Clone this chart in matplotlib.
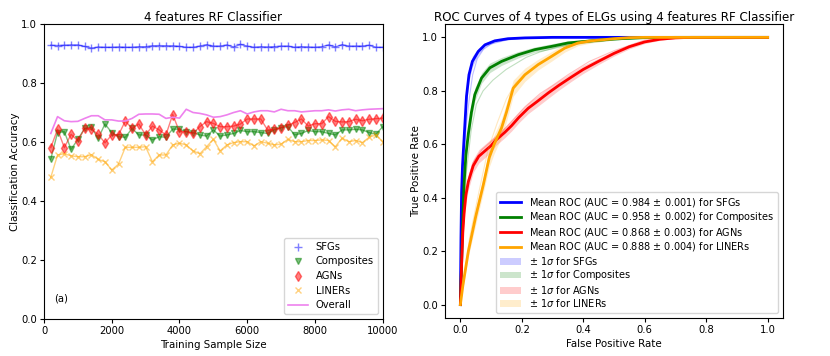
import numpy as np
import matplotlib
matplotlib.use("Agg")
import matplotlib.pyplot as plt

# ---------------- left panel data ----------------
train_size = list(range(200, 10001, 200))

acc_sfg = [0.928, 0.927, 0.928, 0.929, 0.929, 0.924, 0.918, 0.922, 0.921, 0.921,
           0.922, 0.921, 0.921, 0.923, 0.923, 0.926, 0.927, 0.926, 0.926, 0.924,
           0.921, 0.921, 0.925, 0.930, 0.925, 0.925, 0.929, 0.922, 0.931, 0.925,
           0.921, 0.923, 0.922, 0.923, 0.925, 0.925, 0.921, 0.923, 0.922, 0.921,
           0.923, 0.929, 0.922, 0.930, 0.925, 0.925, 0.925, 0.928, 0.921, 0.921]

acc_comp = [0.542, 0.632, 0.635, 0.575, 0.609, 0.646, 0.650, 0.612, 0.661, 0.632,
            0.618, 0.616, 0.646, 0.624, 0.624, 0.607, 0.618, 0.616, 0.644, 0.643,
            0.635, 0.632, 0.624, 0.620, 0.641, 0.620, 0.624, 0.629, 0.639, 0.635,
            0.635, 0.632, 0.629, 0.641, 0.648, 0.652, 0.624, 0.629, 0.639, 0.635,
            0.635, 0.629, 0.624, 0.641, 0.641, 0.643, 0.641, 0.632, 0.626, 0.652]

acc_agn = [0.581, 0.643, 0.581, 0.626, 0.604, 0.646, 0.643, 0.626, 0.597, 0.624,
           0.624, 0.671, 0.646, 0.661, 0.624, 0.654, 0.641, 0.624, 0.693, 0.635,
           0.635, 0.629, 0.652, 0.669, 0.663, 0.652, 0.652, 0.654, 0.661, 0.678,
           0.678, 0.678, 0.641, 0.643, 0.649, 0.657, 0.666, 0.678, 0.654, 0.662,
           0.662, 0.686, 0.670, 0.668, 0.669, 0.677, 0.672, 0.677, 0.679, 0.681]

acc_liner = [0.480, 0.556, 0.560, 0.553, 0.550, 0.550, 0.557, 0.541, 0.533, 0.505,
             0.525, 0.582, 0.582, 0.582, 0.584, 0.533, 0.556, 0.556, 0.590, 0.596,
             0.590, 0.570, 0.560, 0.584, 0.609, 0.570, 0.590, 0.598, 0.601, 0.601,
             0.587, 0.601, 0.596, 0.590, 0.593, 0.609, 0.601, 0.601, 0.605, 0.605,
             0.607, 0.605, 0.584, 0.613, 0.601, 0.605, 0.598, 0.616, 0.624, 0.601]

acc_overall = [0.629, 0.686, 0.672, 0.669, 0.670, 0.680, 0.689, 0.689, 0.675, 0.675,
               0.671, 0.671, 0.680, 0.694, 0.695, 0.695, 0.694, 0.680, 0.684, 0.681,
               0.711, 0.700, 0.697, 0.692, 0.684, 0.686, 0.692, 0.700, 0.706, 0.695,
               0.702, 0.706, 0.706, 0.702, 0.711, 0.706, 0.706, 0.702, 0.704, 0.706,
               0.706, 0.709, 0.705, 0.709, 0.711, 0.706, 0.709, 0.711, 0.712, 0.713]

# ---------------- right panel data ----------------
classes = ["SFGs", "Composites", "AGNs", "LINERs"]
auc_mean = [0.984, 0.958, 0.868, 0.888]
auc_std = [0.001, 0.002, 0.003, 0.004]

fpr_sfg = [0, 0.002, 0.004, 0.007, 0.011, 0.015, 0.02, 0.028, 0.039, 0.058, 0.08, 0.112, 0.155, 0.21, 0.3, 1.0]
tpr_sfg = [0, 0.25, 0.42, 0.52, 0.60, 0.68, 0.78, 0.86, 0.91, 0.947, 0.972, 0.987, 0.995, 0.998, 1.0, 1.0]
std_sfg = [0, 0.03, 0.04, 0.04, 0.04, 0.04, 0.03, 0.025, 0.02, 0.012, 0.008, 0.005, 0.003, 0.002, 0.0, 0.0]

fpr_comp = [0, 0.004, 0.008, 0.012, 0.018, 0.026, 0.036, 0.047, 0.069, 0.096, 0.134, 0.188, 0.242, 0.296, 0.35, 0.426, 0.5, 0.6, 0.7, 1.0]
tpr_comp = [0, 0.15, 0.32, 0.45, 0.56, 0.64, 0.72, 0.786, 0.848, 0.886, 0.91, 0.935, 0.954, 0.966, 0.979, 0.987, 0.994, 0.999, 1.0, 1.0]
std_comp = [0, 0.02, 0.03, 0.03, 0.03, 0.03, 0.03, 0.025, 0.02, 0.018, 0.015, 0.012, 0.01, 0.01, 0.008, 0.006, 0.004, 0.002, 0.0, 0.0]

fpr_agn = [0, 0.004, 0.008, 0.012, 0.018, 0.026, 0.042, 0.06, 0.08, 0.1, 0.115, 0.145, 0.167, 0.19, 0.221, 0.25, 0.286, 0.32, 0.362, 0.4, 0.449, 0.5, 0.55, 0.6, 0.65, 0.7, 0.75, 1.0]
tpr_agn = [0, 0.15, 0.27, 0.34, 0.41, 0.46, 0.52, 0.555, 0.575, 0.595, 0.615, 0.645, 0.67, 0.70, 0.735, 0.76, 0.792, 0.82, 0.852, 0.88, 0.91, 0.94, 0.965, 0.983, 0.993, 0.998, 1.0, 1.0]
std_agn = [0, 0.02, 0.03, 0.03, 0.03, 0.03, 0.025, 0.025, 0.025, 0.025, 0.02, 0.02, 0.02, 0.02, 0.02, 0.02, 0.02, 0.018, 0.016, 0.015, 0.012, 0.01, 0.008, 0.006, 0.004, 0.002, 0.0, 0.0]

fpr_liner = [0, 0.008, 0.026, 0.05, 0.075, 0.094, 0.11, 0.134, 0.15, 0.172, 0.21, 0.253, 0.297, 0.34, 0.383, 0.426, 0.5, 0.55, 0.6, 1.0]
tpr_liner = [0, 0.07, 0.2, 0.33, 0.45, 0.55, 0.6, 0.661, 0.72, 0.81, 0.86, 0.898, 0.929, 0.96, 0.979, 0.987, 0.995, 0.999, 1.0, 1.0]
std_liner = [0, 0.01, 0.02, 0.03, 0.03, 0.035, 0.035, 0.035, 0.035, 0.03, 0.025, 0.02, 0.018, 0.015, 0.01, 0.008, 0.004, 0.002, 0.0, 0.0]

# a few individual fold curves (thin, faint)
fold_sfg_fpr = [0, 0.005, 0.012, 0.02, 0.03, 0.04, 0.055, 0.075, 0.1, 0.15, 0.2, 0.3, 1.0]
fold_sfg_tpr = [0, 0.35, 0.55, 0.68, 0.78, 0.86, 0.92, 0.955, 0.975, 0.99, 0.997, 1.0, 1.0]
fold_comp_fpr = [0, 0.01, 0.02, 0.035, 0.052, 0.074, 0.106, 0.149, 0.214, 0.258, 0.32, 0.4, 0.5, 0.6, 1.0]
fold_comp_tpr = [0, 0.30, 0.50, 0.65, 0.75, 0.80, 0.84, 0.88, 0.925, 0.945, 0.965, 0.98, 0.99, 1.0, 1.0]
fold_agn_fpr = [0, 0.01, 0.02, 0.04, 0.07, 0.1, 0.13, 0.17, 0.21, 0.26, 0.3, 0.35, 0.42, 0.5, 0.6, 0.7, 1.0]
fold_agn_tpr = [0, 0.33, 0.44, 0.53, 0.58, 0.61, 0.64, 0.69, 0.74, 0.79, 0.82, 0.86, 0.91, 0.95, 0.99, 1.0, 1.0]
fold_liner_fpr = [0, 0.03, 0.06, 0.09, 0.12, 0.15, 0.18, 0.22, 0.27, 0.32, 0.38, 0.45, 0.55, 1.0]
fold_liner_tpr = [0, 0.25, 0.42, 0.58, 0.68, 0.77, 0.83, 0.87, 0.91, 0.95, 0.975, 0.99, 1.0, 1.0]

FS = 7.2
plt.rcParams["font.family"] = ["DejaVu Sans"]
plt.rcParams["font.size"] = FS

fig = plt.figure(figsize=(8.30, 3.56), dpi=100)
ax1 = fig.add_axes([44 / 830, 37 / 356, 338.7 / 830, 295 / 356])
ax2 = fig.add_axes([445 / 830, 38 / 356, 338 / 830, 294 / 356])

# ---- left
series = [(acc_sfg, "blue", "+", "SFGs", 5.5),
          (acc_comp, "green", "v", "Composites", 5),
          (acc_agn, "red", "d", "AGNs", 5),
          (acc_liner, "orange", "x", "LINERs", 4)]
for vals, c, m, lab, ms in series:
    ax1.plot(train_size, vals, color=c, alpha=0.5, lw=1)
    ax1.plot(train_size, vals, color=c, alpha=0.5, marker=m, ms=ms, ls="none", label=lab)
ax1.plot(train_size, acc_overall, color="violet", lw=1.2, label="Overall")
ax1.set_xlim(0, 10000)
ax1.set_ylim(0, 1.0)
ax1.set_xticks([0, 2000, 4000, 6000, 8000, 10000])
ax1.set_yticks([0.0, 0.2, 0.4, 0.6, 0.8, 1.0])
ax1.set_xlabel("Training Sample Size", fontsize=7.4, labelpad=3)
ax1.set_ylabel("Classification Accuracy", fontsize=7.4, labelpad=1)
ax1.set_title("4 features RF Classifier", fontsize=8.6, pad=2.5)
ax1.text(300, 0.07, "(a)", fontsize=FS, va="center")
ax1.legend(loc="lower right", fontsize=FS, numpoints=1, handlelength=2.0,
           borderpad=0.4, labelspacing=0.45)
ax1.tick_params(labelsize=FS, length=3, pad=2)

# ---- right
roc = [(fpr_sfg, tpr_sfg, std_sfg, fold_sfg_fpr, fold_sfg_tpr, "blue"),
       (fpr_comp, tpr_comp, std_comp, fold_comp_fpr, fold_comp_tpr, "green"),
       (fpr_agn, tpr_agn, std_agn, fold_agn_fpr, fold_agn_tpr, "red"),
       (fpr_liner, tpr_liner, std_liner, fold_liner_fpr, fold_liner_tpr, "orange")]
mean_handles = []
band_handles = []
for (f, t, s, ff, ft, c), name, am, asd in zip(roc, classes, auc_mean, auc_std):
    ax2.plot(ff, ft, color=c, lw=0.8, alpha=0.25)
    t = np.array(t); s = np.array(s)
    h, = ax2.plot(f, t, color=c, lw=2,
                  label=r"Mean ROC (AUC = %0.3f $\pm$ %0.3f) for %s" % (am, asd, name))
    b = ax2.fill_between(f, np.maximum(t - s, 0), np.minimum(t + s, 1), color=c, alpha=0.2,
                         lw=0, label=r"$\pm$ 1$\sigma$ for %s" % name)
    mean_handles.append(h)
    band_handles.append(b)
ax2.set_xlim(-0.05, 1.05)
ax2.set_ylim(-0.05, 1.05)
ax2.set_xticks([0.0, 0.2, 0.4, 0.6, 0.8, 1.0])
ax2.set_yticks([0.0, 0.2, 0.4, 0.6, 0.8, 1.0])
ax2.set_xlabel("False Positive Rate", fontsize=7.4, labelpad=3)
ax2.set_ylabel("True Positive Rate", fontsize=7.4, labelpad=1)
ax2.set_title("ROC Curves of 4 types of ELGs using 4 features RF Classifier", fontsize=8.6, pad=2.5)
ax2.legend(handles=mean_handles + band_handles, loc="lower right", fontsize=7.0,
           handlelength=2.2, borderpad=0.4, labelspacing=0.15)
ax2.tick_params(labelsize=FS, length=3, pad=2)

fig.savefig("out.png", dpi=100)
